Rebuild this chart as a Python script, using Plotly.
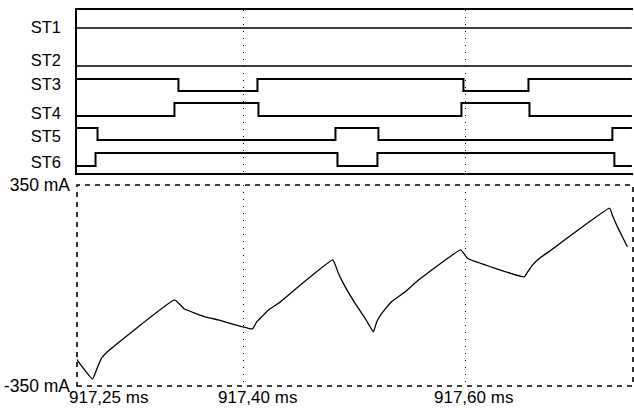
import plotly.graph_objects as go

# ---------------- data ----------------
x_tick_vals = [917.25, 917.40, 917.60]
x_tick_text = ["917,25 ms", "917,40 ms", "917,60 ms"]

signal_names = ["ST1", "ST2", "ST3", "ST4", "ST5", "ST6"]

st1_t = [917.25, 917.75]
st1_s = [0, 0]
st2_t = [917.25, 917.75]
st2_s = [0, 0]
st3_t = [917.25, 917.3414, 917.4126, 917.5982, 917.6568, 917.75]
st3_s = [1, 0, 1, 0, 1, 1]
st4_t = [917.25, 917.3378, 917.4135, 917.5964, 917.6577, 917.75]
st4_s = [0, 1, 0, 1, 0, 0]
st5_t = [917.25, 917.2685, 917.4829, 917.5216, 917.7324, 917.75]
st5_s = [1, 0, 1, 0, 1, 1]
st6_t = [917.25, 917.2667, 917.4847, 917.5207, 917.7342, 917.75]
st6_s = [0, 1, 0, 1, 0, 0]

current_t = [917.2486, 917.2640, 917.2675, 917.2721, 917.2784, 917.2829, 917.3380,
             917.3468, 917.3655, 917.3775, 917.4081, 917.4120, 917.4165, 917.4225,
             917.4315, 917.4805, 917.4856, 917.4916, 917.5006, 917.5096, 917.5171,
             917.5201, 917.5246, 917.5336, 917.5457, 917.5577, 917.5958, 917.6018,
             917.6529, 917.6562, 917.6604, 917.6679, 917.6754, 917.7300, 917.7324,
             917.7369, 917.7414, 917.7459]
current_mA = [-252, -326, -294, -253, -227, -213, -50,
              -82, -109, -120, -151, -126, -109, -85,
              -62, 89, 42, -4, -62, -114, -161,
              -126, -97, -56, -22, 19, 124, 95,
              30, 48, 71, 98, 118, 269, 245,
              205, 170, 135]

current_ticks = [-350, 350]
current_tick_text = ["-350 mA", "350 mA"]

# ---------------- layout helpers (lane geometry, in top-panel units) ----------------
lane_low = [28, 66, 91, 116, 140, 166]
lane_high = [28, 66, 79, 103, 128, 153]
label_pos = [27, 60, 84, 113, 136, 162]

FONT = "Liberation Sans, Arial, Helvetica, sans-serif"

fig = go.Figure()

sig_t = [st1_t, st2_t, st3_t, st4_t, st5_t, st6_t]
sig_s = [st1_s, st2_s, st3_s, st4_s, st5_s, st6_s]
for i, (t, s) in enumerate(zip(sig_t, sig_s)):
    y = [lane_low[i] - v * (lane_low[i] - lane_high[i]) for v in s]
    fig.add_trace(go.Scatter(
        x=t, y=y, mode="lines", line=dict(color="black", width=2 if i >= 2 else 1.6, shape="hv"),
        xaxis="x", yaxis="y", showlegend=False, hoverinfo="skip"))

fig.add_trace(go.Scatter(
    x=current_t, y=current_mA, mode="lines", line=dict(color="black", width=1.3, shape="spline", smoothing=0.3),
    xaxis="x2", yaxis="y2", showlegend=False, hoverinfo="skip"))

grid_common = dict(showgrid=True, gridcolor="black", gridwidth=1.2, griddash="1px,6px",
                   tickvals=x_tick_vals[1:], showticklabels=False, ticks="", zeroline=False,
                   range=[917.25, 917.751])

fig.update_layout(
    width=634, height=408,
    margin=dict(l=77, r=1, t=10, b=22),
    paper_bgcolor="white", plot_bgcolor="white",
    font=dict(family=FONT, size=17, color="black"),
    xaxis=dict(domain=[0, 1], anchor="y", showline=True, mirror=True, linecolor="black",
               linewidth=2, **grid_common),
    yaxis=dict(domain=[0.5665, 1], range=[173, 10], showgrid=False, zeroline=False,
               showline=True, linecolor="black", linewidth=1.5, mirror=False,
               tickvals=label_pos, ticktext=signal_names, ticks="",
               ticklabelstandoff=11, tickfont=dict(size=16.5)),
    xaxis2=dict(domain=[0, 1], anchor="y2", showline=False, **grid_common),
    yaxis2=dict(domain=[0, 0.5346], range=[-350, 350], showgrid=False, zeroline=False,
                showline=False, tickvals=current_ticks, ticktext=current_tick_text, ticks="",
                ticklabelstandoff=6, tickfont=dict(size=17.5)),
    shapes=[dict(type="rect", xref="x2 domain", yref="y2 domain", x0=0, x1=1, y0=0, y1=1,
                 line=dict(color="black", width=1.6, dash="5px,5px"))],
)

x_shifts = [31, 14, 8]
for v, txt, sh in zip(x_tick_vals, x_tick_text, x_shifts):
    fig.add_annotation(x=v, y=0, xref="x2", yref="paper", text=txt, showarrow=False,
                       xanchor="center", yanchor="middle", xshift=sh, yshift=-11,
                       borderpad=0,
                       font=dict(family=FONT, size=17, color="black"))

fig.write_html("out.html")
